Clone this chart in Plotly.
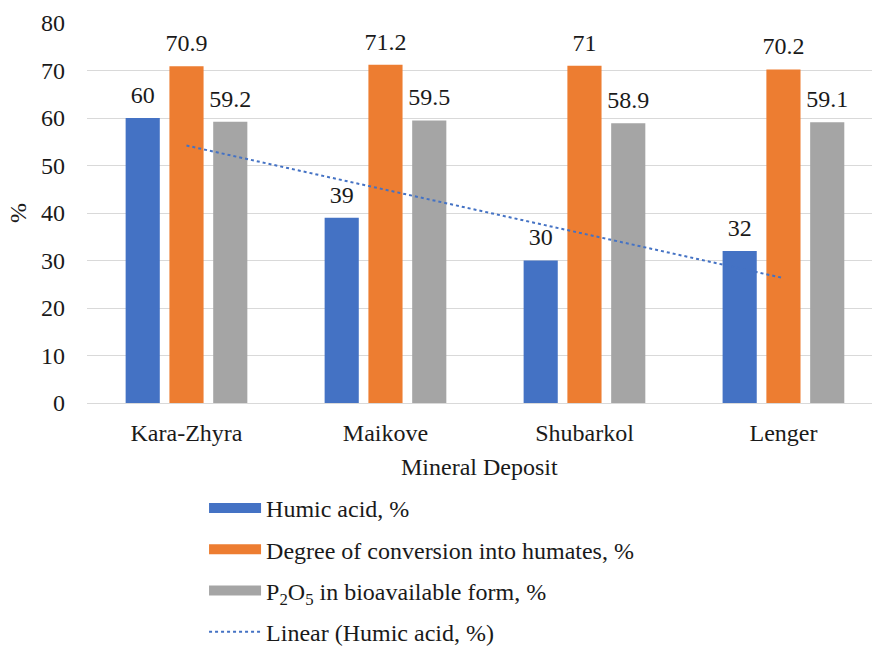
import numpy as np
import plotly.graph_objects as go

# Deposits and measured values
deposits = ["Kara-Zhyra", "Maikove", "Shubarkol", "Lenger"]
humic_acid = [60, 39, 30, 32]
conversion = [70.9, 71.2, 71, 70.2]
p2o5 = [59.2, 59.5, 58.9, 59.1]

series_names = [
    "Humic acid, %",
    "Degree of conversion into humates, %",
    "P<sub>2</sub>O<sub>5</sub> in bioavailable form, %",
]
colors = ["#4472C4", "#ED7D31", "#A5A5A5"]
FONT = "Liberation Serif"
FS = 24
TEXT = "#1a1a1a"
GAP = 0.34
XRANGE = [-0.5, 3.445]

fig = go.Figure()

for i, (name, vals, col) in enumerate(zip(series_names, [humic_acid, conversion, p2o5], colors)):
    fig.add_trace(go.Bar(
        x=deposits, y=vals, name=name, marker=dict(color=col, line=dict(width=0)),
        offsetgroup=str(i), showlegend=False,
    ))
    # value labels, grouped the same way as the bars
    fig.add_trace(go.Scatter(
        x=deposits, y=vals, mode="markers+text", offsetgroup=str(i),
        text=[f"{v:g}" for v in vals], textposition="top center",
        textfont=dict(family=FONT, size=FS, color=TEXT),
        marker=dict(size=13, opacity=0), hoverinfo="skip",
        showlegend=False, cliponaxis=False,
    ))

# Linear trend of humic acid content, drawn through the category centres
idx = np.arange(len(deposits))
slope, intercept = np.polyfit(idx, humic_acid, 1)
trend = slope * idx + intercept
fig.add_trace(go.Scatter(
    x=deposits, y=trend, mode="lines", name="Linear (Humic acid, %)",
    line=dict(color="#4472C4", width=2, dash="dot"), showlegend=False,
    xaxis="x2",
))

# Legend entries drawn as wide swatches
for i, (name, col) in enumerate(zip(series_names, colors)):
    fig.add_trace(go.Scatter(
        x=[None], y=[None], mode="lines", name=name,
        line=dict(color=col, width=11), legendgroup=f"g{i}",
    ))
fig.add_trace(go.Scatter(
    x=[None], y=[None], mode="lines", name="Linear (Humic acid, %)",
    line=dict(color="#4472C4", width=2, dash="dot"), legendgroup="g3",
))

# Axis titles
fig.add_annotation(text="Mineral Deposit", xref="paper", yref="paper",
                   x=(479 - 87) / 785, y=-(467 - 403) / 380,
                   showarrow=False, xanchor="center", yanchor="middle",
                   font=dict(family=FONT, size=FS, color=TEXT))
fig.add_annotation(text="%", xref="paper", yref="paper",
                   x=-(87 - 18) / 785, y=0.5, textangle=-90,
                   showarrow=False, xanchor="center", yanchor="middle",
                   font=dict(family=FONT, size=FS, color=TEXT))

fig.update_layout(
    width=872, height=648,
    margin=dict(l=87, r=0, t=23, b=245, autoexpand=False),
    paper_bgcolor="white", plot_bgcolor="white",
    font=dict(family=FONT, size=FS, color=TEXT),
    barmode="group", bargap=GAP, bargroupgap=0.22,
    scattermode="group", scattergap=GAP,
    legend=dict(
        xref="container", yref="container",
        x=0.234, y=1 - 486 / 648, xanchor="left", yanchor="top",
        orientation="v", tracegroupgap=7, itemwidth=52,
        font=dict(family=FONT, size=FS, color=TEXT),
        bgcolor="rgba(0,0,0,0)",
    ),
    xaxis=dict(
        range=XRANGE, showgrid=False, showline=True, linecolor="#D9D9D9",
        linewidth=1, ticks="", tickfont=dict(family=FONT, size=FS), tickangle=0,
        ticklabelstandoff=8, automargin=False,
        categoryorder="array", categoryarray=deposits,
    ),
    xaxis2=dict(
        overlaying="x", range=XRANGE, visible=False,
        categoryorder="array", categoryarray=deposits,
    ),
    yaxis=dict(
        range=[0, 80], dtick=10, showgrid=True, gridcolor="#D9D9D9", gridwidth=1,
        zeroline=False, ticks="", tickfont=dict(family=FONT, size=FS),
        ticklabelstandoff=21, automargin=False,
    ),
)

fig.write_html("out.html")
